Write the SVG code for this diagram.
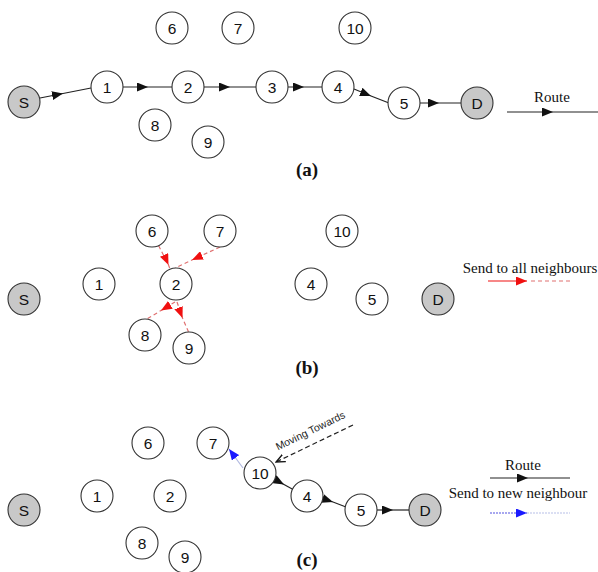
<svg xmlns="http://www.w3.org/2000/svg" width="598" height="572" viewBox="0 0 598 572">
<style>
.n circle{fill:#fff;stroke:#333;stroke-width:1.1}
.g circle{fill:#c8c8c8}
.n text{font-family:"Liberation Sans",Arial,sans-serif;font-size:15.5px;fill:#111;text-anchor:middle;dominant-baseline:central}
.lg{font-family:"Liberation Serif","Times New Roman",serif;font-size:15px;fill:#111;text-anchor:middle}
.cap{font-family:"Liberation Serif","Times New Roman",serif;font-size:19px;font-weight:bold;fill:#111;text-anchor:middle}
.route{fill:none;stroke:#222;stroke-width:1.2;marker-mid:url(#ab)}
.red{fill:none;stroke:#e07070;stroke-width:1.2;stroke-dasharray:4 3;marker-mid:url(#ar)}
</style>
<defs>
<marker id="ab" markerUnits="userSpaceOnUse" markerWidth="11" markerHeight="9" refX="11" refY="4.5" orient="auto"><path d="M0,0 L11,4.5 L0,9 z" fill="#111"/></marker>
<marker id="ar" markerUnits="userSpaceOnUse" markerWidth="11" markerHeight="9" refX="11" refY="4.5" orient="auto"><path d="M0,0 L11,4.5 L0,9 z" fill="#f01010"/></marker>
<marker id="abl" markerUnits="userSpaceOnUse" markerWidth="11" markerHeight="9" refX="11" refY="4.5" orient="auto"><path d="M0,0 L11,4.5 L0,9 z" fill="#1a1aff"/></marker>
<marker id="aopen" markerUnits="userSpaceOnUse" markerWidth="10" markerHeight="10" refX="9" refY="5" orient="auto"><path d="M0,1 L9,5 L0,9" fill="none" stroke="#111" stroke-width="1.3"/></marker>
</defs>

<g id="connectors">
<!-- (a) -->
<path class="route" d="M40,98 L63,93.5 L91,88"/>
<path class="route" d="M123,87 L148,87 L172,87"/>
<path class="route" d="M204,87 L230,87 L256,87"/>
<path class="route" d="M288,87 L304,87 L322,87"/>
<path class="route" d="M354,89 L371,96 L389,103"/>
<path class="route" d="M420,103 L439,103 L461,103"/>
<path class="route" d="M507,112 L553,112 L598,112"/>
<!-- (b) -->
<path class="red" d="M158.6,245.6 L168.5,265 L170,269"/>
<path class="red" d="M220,247 L192,260 L175,268"/>
<path class="red" d="M175,302 L161,310.5 L147,319"/>
<path class="red" d="M177,302 L182.5,318 L189,333"/>
<path d="M488,281 L527,281" fill="none" stroke="#f01010" stroke-width="1.2" marker-end="url(#ar)"/>
<path d="M531,281 L572,281" fill="none" stroke="#e07070" stroke-width="1.2" stroke-dasharray="4 3"/>
<!-- (c) -->
<path d="M243,468 L229,449" fill="none" stroke="#b0b8e0" stroke-width="1.2" marker-end="url(#abl)"/>
<path d="M353,425 L276,462" fill="none" stroke="#222" stroke-width="1.2" stroke-dasharray="5 3" marker-end="url(#aopen)"/>
<path class="route" d="M274,479 L284,484.5 L294,490"/>
<path class="route" d="M322,499 L333,502 L346,507"/>
<path class="route" d="M377,510 L393,510 L409,510"/>
<path class="route" d="M490,478 L528,478 L570,478"/>
<path d="M490,513 L527,513" fill="none" stroke="#5050e0" stroke-width="1.2" stroke-dasharray="2 1" marker-end="url(#abl)"/>
<path d="M527,513 L570,513" fill="none" stroke="#b8c0e8" stroke-width="1.2" stroke-dasharray="2 1"/>
</g>

<!-- panel (a) -->
<g id="a-S" class="n g"><circle cx="24" cy="102" r="16"/><text x="24" y="102">S</text></g>
<g id="a-1" class="n"><circle cx="107" cy="87" r="16"/><text x="107" y="87">1</text></g>
<g id="a-2" class="n"><circle cx="188" cy="87" r="16"/><text x="188" y="87">2</text></g>
<g id="a-3" class="n"><circle cx="272" cy="87" r="16"/><text x="272" y="87">3</text></g>
<g id="a-4" class="n"><circle cx="338" cy="87" r="16"/><text x="338" y="87">4</text></g>
<g id="a-5" class="n"><circle cx="404" cy="103" r="16"/><text x="404" y="103">5</text></g>
<g id="a-D" class="n g"><circle cx="477" cy="103" r="16"/><text x="477" y="103">D</text></g>
<g id="a-6" class="n"><circle cx="172" cy="28" r="16"/><text x="172" y="28">6</text></g>
<g id="a-7" class="n"><circle cx="238" cy="28" r="16"/><text x="238" y="28">7</text></g>
<g id="a-10" class="n"><circle cx="355" cy="28" r="16"/><text x="355" y="28">10</text></g>
<g id="a-8" class="n"><circle cx="155" cy="125" r="16"/><text x="155" y="125">8</text></g>
<g id="a-9" class="n"><circle cx="208" cy="142" r="16"/><text x="208" y="142">9</text></g>
<text class="lg" x="552" y="102" font-size="16">Route</text>
<text class="cap" x="307" y="176">(a)</text>

<!-- panel (b) -->
<g id="b-S" class="n g"><circle cx="24" cy="299" r="16"/><text x="24" y="299">S</text></g>
<g id="b-1" class="n"><circle cx="99" cy="284" r="16"/><text x="99" y="284">1</text></g>
<g id="b-6" class="n"><circle cx="152" cy="231" r="16"/><text x="152" y="231">6</text></g>
<g id="b-7" class="n"><circle cx="220" cy="231" r="16"/><text x="220" y="231">7</text></g>
<g id="b-2" class="n"><circle cx="176" cy="284" r="16"/><text x="176" y="284">2</text></g>
<g id="b-8" class="n"><circle cx="145" cy="335" r="16"/><text x="145" y="335">8</text></g>
<g id="b-9" class="n"><circle cx="189" cy="348" r="16"/><text x="189" y="348">9</text></g>
<g id="b-10" class="n"><circle cx="342" cy="231" r="16"/><text x="342" y="231">10</text></g>
<g id="b-4" class="n"><circle cx="311" cy="284" r="16"/><text x="311" y="284">4</text></g>
<g id="b-5" class="n"><circle cx="372" cy="299" r="16"/><text x="372" y="299">5</text></g>
<g id="b-D" class="n g"><circle cx="438" cy="299" r="16"/><text x="438" y="299">D</text></g>
<text class="lg" x="530" y="273">Send to all neighbours</text>
<text class="cap" x="307" y="374">(b)</text>

<!-- panel (c) -->
<g id="c-S" class="n g"><circle cx="24" cy="510" r="16"/><text x="24" y="510">S</text></g>
<g id="c-1" class="n"><circle cx="97" cy="496" r="16"/><text x="97" y="496">1</text></g>
<g id="c-2" class="n"><circle cx="170" cy="496" r="16"/><text x="170" y="496">2</text></g>
<g id="c-6" class="n"><circle cx="148" cy="443" r="16"/><text x="148" y="443">6</text></g>
<g id="c-7" class="n"><circle cx="213" cy="443" r="16"/><text x="213" y="443">7</text></g>
<g id="c-8" class="n"><circle cx="142" cy="543" r="16"/><text x="142" y="543">8</text></g>
<g id="c-9" class="n"><circle cx="185" cy="557" r="16"/><text x="185" y="557">9</text></g>
<g id="c-10" class="n"><circle cx="260" cy="473" r="16"/><text x="260" y="473">10</text></g>
<g id="c-4" class="n"><circle cx="307" cy="496" r="16"/><text x="307" y="496">4</text></g>
<g id="c-5" class="n"><circle cx="361" cy="510" r="16"/><text x="361" y="510">5</text></g>
<g id="c-D" class="n g"><circle cx="425" cy="510" r="16"/><text x="425" y="510">D</text></g>
<text x="312" y="434" transform="rotate(-26 312 434)" font-family="Liberation Sans, Arial, sans-serif" font-size="10.5" fill="#222" text-anchor="middle">Moving Towards</text>
<text class="lg" x="523" y="470">Route</text>
<text class="lg" x="518" y="498">Send to new neighbour</text>
<text class="cap" x="307" y="566">(c)</text>
</svg>
